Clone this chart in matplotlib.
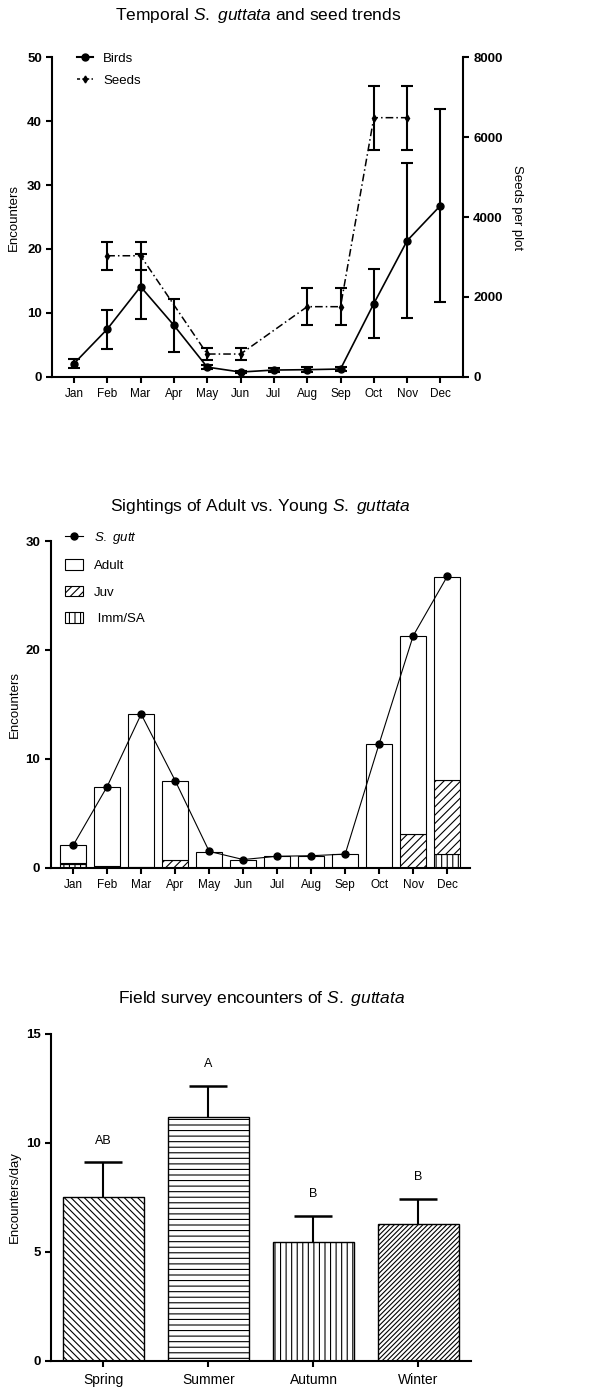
import numpy as np
import matplotlib
matplotlib.use('Agg')
import matplotlib.pyplot as plt
from matplotlib.lines import Line2D
from matplotlib.patches import Patch

plt.rcParams['font.family'] = ['Liberation Sans', 'DejaVu Sans']
plt.rcParams['mathtext.fontset'] = 'custom'
plt.rcParams['mathtext.rm'] = 'Liberation Sans'
plt.rcParams['mathtext.it'] = 'Liberation Sans:italic'
plt.rcParams['mathtext.bf'] = 'Liberation Sans:bold'
plt.rcParams['hatch.linewidth'] = 0.8

# data
months = ['Jan', 'Feb', 'Mar', 'Apr', 'May', 'Jun', 'Jul', 'Aug', 'Sep', 'Oct', 'Nov', 'Dec']

# chart 1: birds (left axis) and seeds (right axis)
birds = [2.05, 7.45, 14.1, 8.05, 1.5, 0.73, 1.04, 1.1, 1.2, 11.45, 21.3, 26.8]
birds_err = [0.68, 3.05, 5.1, 4.12, 0.3, 0.2, 0.3, 0.35, 0.35, 5.45, 12.15, 15.1]
seeds = [np.nan, 3030, 3030, np.nan, 568, 568, np.nan, 1754, 1754, 6489, 6489, np.nan]
seeds_err = [np.nan, 350, 350, np.nan, 155, 155, np.nan, 460, 460, 800, 800, np.nan]

# chart 2: stacked age classes + total line
imm = [0.3, 0, 0, 0, 0, 0, 0, 0, 0, 0, 0, 1.22]
juv = [0.15, 0.12, 0.1, 0.75, 0, 0, 0, 0, 0, 0, 3.12, 6.86]
adult = [1.6, 7.28, 13.98, 7.21, 1.44, 0.73, 1.04, 1.1, 1.22, 11.36, 18.12, 18.64]
sgutt = [2.05, 7.45, 14.1, 8.0, 1.5, 0.75, 1.05, 1.1, 1.25, 11.4, 21.3, 26.75]

# chart 3: seasons
seasons = ['Spring', 'Summer', 'Autumn', 'Winter']
season_mean = [7.5, 11.2, 5.46, 6.26]
season_err = [1.6, 1.41, 1.2, 1.17]
season_letters = ['AB', 'A', 'B', 'B']
season_hatch = ['\\\\\\\\\\', '---', '|||', '///////']

x = np.arange(len(months))


def style_axes(ax):
    ax.spines['top'].set_visible(False)
    ax.spines['right'].set_visible(False)
    ax.spines['left'].set_linewidth(1.5)
    ax.spines['bottom'].set_linewidth(1.5)
    ax.tick_params(axis='both', direction='out', width=1.5, length=4)
    ax.tick_params(axis='x', labelsize=8.5, pad=4)
    ax.tick_params(axis='y', labelsize=9.5)
    for t in ax.get_yticklabels():
        t.set_fontweight('bold')


fig = plt.figure(figsize=(6.1, 13.89), dpi=100)

# ---------- chart 1 ----------
ax1 = fig.add_axes([0.0857, 0.7288, 0.673, 0.2299])
ax1.errorbar(x, birds, yerr=birds_err, fmt='-o', color='black', lw=1.2,
             ms=5, elinewidth=1.5, capsize=4, capthick=1.5, zorder=3)
ax1.set_xlim(-0.65, 11.67)
ax1.set_ylim(0, 50)
ax1.set_yticks([0, 10, 20, 30, 40, 50])
ax1.set_xticks(x)
ax1.set_xticklabels(months)
ax1.set_ylabel('Encounters', fontsize=9.5)
ax1.yaxis.set_label_coords(-0.078, 0.5)
style_axes(ax1)

ax2 = ax1.twinx()
seeds = np.array(seeds)
seeds_err = np.array(seeds_err)
m = ~np.isnan(seeds)
ax2.errorbar(x[m], seeds[m], yerr=seeds_err[m], fmt='d', linestyle=(0, (5, 2, 1, 2)),
             color='black', lw=1.1, ms=3.5, elinewidth=1.5, capsize=4, capthick=1.5)
ax2.set_ylim(0, 8000)
ax2.set_yticks([0, 2000, 4000, 6000, 8000])
ax2.spines['top'].set_visible(False)
ax2.spines['left'].set_visible(False)
ax2.spines['bottom'].set_visible(False)
ax2.spines['right'].set_linewidth(1.5)
ax2.tick_params(axis='y', direction='out', width=1.5, length=4, labelsize=9.5)
for t in ax2.get_yticklabels():
    t.set_fontweight('bold')
ax2.set_ylabel('Seeds per plot', fontsize=9.5, rotation=270)
ax2.yaxis.set_label_coords(1.146, 0.53)

h1 = [Line2D([], [], color='black', marker='o', ms=5, lw=1.5),
      Line2D([], [], color='black', marker='d', ms=3.5, lw=1.1, linestyle=(0, (2, 1.5, 1, 1.5)))]
ax1.legend(h1, ['Birds', 'Seeds'], loc='upper left', bbox_to_anchor=(0.06, 1.015),
           frameon=False, fontsize=9.5, handlelength=1.2, handletextpad=0.8,
           labelspacing=0.75, borderpad=0, borderaxespad=0)
fig.text(0.4225, 0.9892, r'Temporal $\it{S.\ guttata}$ and seed trends',
         ha='center', va='center', fontsize=12.5)

# ---------- chart 2 ----------
ax3 = fig.add_axes([0.0831, 0.3753, 0.6874, 0.2352])
bw = 0.77
ax3.bar(x, imm, width=bw, color='white', edgecolor='black', lw=0.8, hatch='|||')
ax3.bar(x, juv, width=bw, bottom=imm, color='white', edgecolor='black', lw=0.8, hatch='////')
ax3.bar(x, adult, width=bw, bottom=np.array(imm) + np.array(juv), color='white',
        edgecolor='black', lw=0.8)
ax3.plot(x, sgutt, '-o', color='black', lw=0.8, ms=5, zorder=4)
ax3.set_xlim(-0.66, 11.67)
ax3.set_ylim(0, 30)
ax3.set_yticks([0, 10, 20, 30])
ax3.set_xticks(x)
ax3.set_xticklabels(months)
ax3.set_ylabel('Encounters', fontsize=9.5)
ax3.yaxis.set_label_coords(-0.071, 0.5)
style_axes(ax3)
h2 = [Line2D([], [], color='black', marker='o', ms=5, lw=0.8),
      Patch(facecolor='white', edgecolor='black', lw=0.8),
      Patch(facecolor='white', edgecolor='black', lw=0.8, hatch='////'),
      Patch(facecolor='white', edgecolor='black', lw=0.8, hatch='|||')]
ax3.legend(h2, [r'$\it{S.\ gutt}$', 'Adult', 'Juv', ' Imm/SA'], loc='upper left',
           bbox_to_anchor=(0.034, 1.035), frameon=False, fontsize=9.5, handlelength=1.4,
           handleheight=0.8, handletextpad=0.8, labelspacing=1.05, borderpad=0,
           borderaxespad=0)
fig.text(0.4263, 0.6357, r'Sightings of Adult vs. Young $\it{S.\ guttata}$',
         ha='center', va='center', fontsize=12.5)

# ---------- chart 3 ----------
ax4 = fig.add_axes([0.0836, 0.0204, 0.6885, 0.2352])
xs = np.arange(len(seasons))
bars = ax4.bar(xs, season_mean, width=0.77, color='white', edgecolor='black', lw=1.0)
for b, h in zip(bars, season_hatch):
    b.set_hatch(h)
eb = ax4.errorbar(xs, season_mean, yerr=[np.zeros(len(xs)), season_err], fmt='none',
                  ecolor='black', elinewidth=1.5, capsize=14, capthick=1.8)
# only the upper caps, like the original
eb[1][0].set_visible(False)
for xi, mval, e, lab in zip(xs, season_mean, season_err, season_letters):
    ax4.text(xi, mval + e + 1.0, lab, ha='center', va='center', fontsize=9)
ax4.set_xlim(-0.5, 3.5)
ax4.set_ylim(0, 15)
ax4.set_yticks([0, 5, 10, 15])
ax4.set_xticks(xs)
ax4.set_xticklabels(seasons)
ax4.set_ylabel('Encounters/day', fontsize=9.5)
ax4.yaxis.set_label_coords(-0.071, 0.5)
style_axes(ax4)
ax4.tick_params(axis='x', labelsize=10, pad=5)
fig.text(0.4282, 0.2808, r'Field survey encounters of $\it{S.\ guttata}$',
         ha='center', va='center', fontsize=12.5)

fig.savefig('out.png', dpi=100)
